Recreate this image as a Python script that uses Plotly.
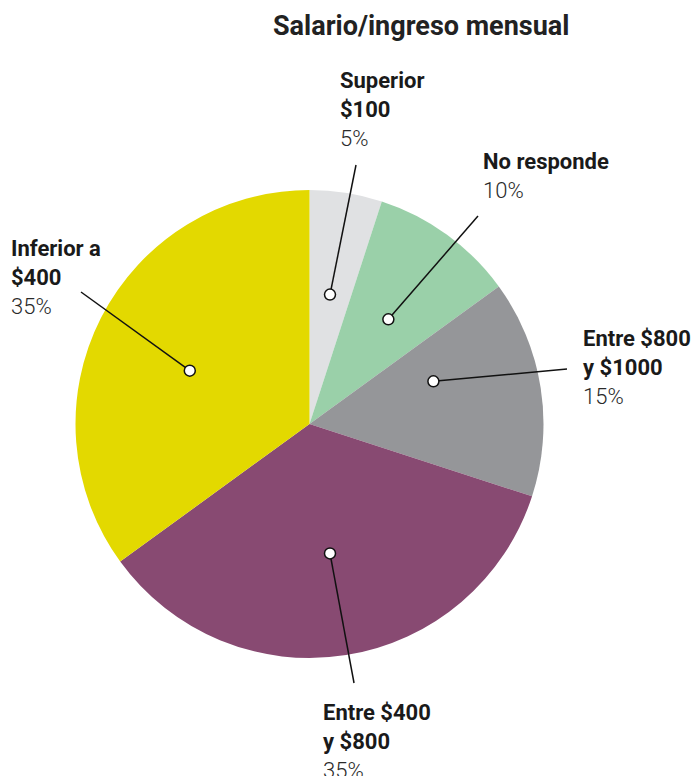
import math
import plotly.graph_objects as go

# ---- data ----
categories = ["Superior $100", "No responde", "Entre $800 y $1000", "Entre $400 y $800", "Inferior a $400"]
label_lines = [["Superior", "$100"], ["No responde"], ["Entre $800", "y $1000"], ["Entre $400", "y $800"], ["Inferior a", "$400"]]
values = [5, 10, 15, 35, 35]
title = "Salario/ingreso mensual"

# ---- styling / layout ----
colors = ["#e0e1e3", "#9ad0a9", "#959699", "#884a72", "#e3d900"]
W, H = 699, 776
cx, cy, R = 309.5, 424, 234
anchor_r = 0.56
angle_nudge = [0, 1, -10, 0, -3]          # degrees
line_ends = [(356, 165), (478, 216), (567, 369), (354, 683), (81, 292)]
text_pos = [(338, 80), (481, 161), (581, 338), (321, 712), (9, 248)]
line_gap = 29
FONT = "Roboto"
dot_r = 5.5

fig = go.Figure()
fig.add_trace(go.Pie(
    labels=categories, values=values, sort=False, direction="clockwise",
    rotation=0, marker=dict(colors=colors, line=dict(width=0)),
    textinfo="none", hoverinfo="label+percent", showlegend=False,
    domain=dict(x=[(cx - R) / W, (cx + R) / W], y=[1 - (cy + R) / H, 1 - (cy - R) / H]),
))

# anchor dots computed from slice mid-angles
total = sum(values)
cum = 0
for i, v in enumerate(values):
    mid = (cum + v / 2) / total * 360 + angle_nudge[i]
    cum += v
    a = math.radians(mid)
    dx = cx + anchor_r * R * math.sin(a)
    dy = cy - anchor_r * R * math.cos(a)
    ex, ey = line_ends[i]
    fig.add_shape(type="line", x0=dx, y0=dy, x1=ex, y1=ey, xref="x", yref="y",
                  layer="above", line=dict(color="#111111", width=1.5))
    fig.add_shape(type="circle", x0=dx - dot_r, x1=dx + dot_r, y0=dy - dot_r, y1=dy + dot_r,
                  xref="x", yref="y", layer="above", fillcolor="white",
                  line=dict(color="#111111", width=1.5))

for i, lines in enumerate(label_lines):
    tx, ty = text_pos[i]
    rows = [(t, 700) for t in lines] + [(f"{values[i]}%", 300)]
    for j, (t, wgt) in enumerate(rows):
        fig.add_annotation(x=tx, y=ty + j * line_gap, xref="x", yref="y", text=t,
                           showarrow=False, xanchor="left", yanchor="middle",
                           font=dict(family=FONT, size=22, color="#1a1a1a" if wgt == 700 else "#2a2a2a", weight=wgt))

fig.add_annotation(x=421, y=26, xref="x", yref="y", text=title, showarrow=False,
                   xanchor="center", yanchor="middle",
                   font=dict(family=FONT, size=27, color="#222222", weight=700))

fig.update_layout(
    width=W, height=H, margin=dict(l=0, r=0, t=0, b=0),
    paper_bgcolor="white", plot_bgcolor="rgba(0,0,0,0)",
    xaxis=dict(range=[0, W], visible=False, domain=[0, 1], fixedrange=True),
    yaxis=dict(range=[H, 0], visible=False, domain=[0, 1], fixedrange=True),
)

fig.write_html("out.html")
